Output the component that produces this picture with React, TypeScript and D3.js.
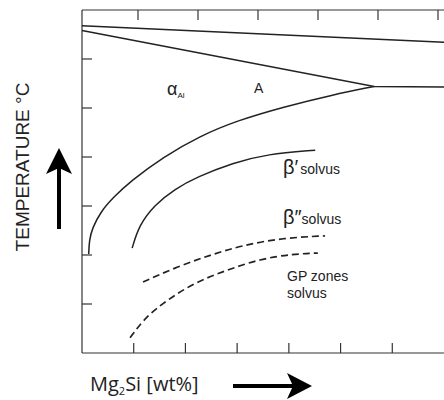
import React, { useEffect, useRef } from "react"
import * as d3 from "d3"

// composition (x) vs temperature (y), in tick units
const liquidus: [number, number][] = [
  [0, 6.68],
  [7, 6.34],
]
const solidus: [number, number][] = [
  [0, 6.58],
  [5.65, 5.44],
  [7, 5.43],
]
const alphaSolvus: [number, number][] = [
  [0.13, 2.02],
  [0.14, 2.3],
  [0.2, 2.55],
  [0.36, 2.88],
  [0.6, 3.17],
  [0.93, 3.5],
  [1.57, 4.0],
  [2.28, 4.43],
  [3.02, 4.75],
  [3.89, 5.02],
  [4.85, 5.27],
  [5.65, 5.44],
]
const betaPrime: [number, number][] = [
  [0.97, 2.14],
  [1.1, 2.6],
  [1.4, 3.02],
  [1.8, 3.35],
  [2.22, 3.59],
  [2.92, 3.88],
  [3.58, 4.06],
  [4.51, 4.14],
]
const betaDoublePrime: [number, number][] = [
  [1.18, 1.45],
  [1.84, 1.76],
  [2.48, 2.0],
  [3.11, 2.2],
  [3.89, 2.35],
  [4.7, 2.39],
]
const gpZones: [number, number][] = [
  [0.93, 0.31],
  [1.18, 0.67],
  [1.51, 0.98],
  [2.15, 1.43],
  [2.8, 1.69],
  [3.44, 1.92],
  [4.08, 2.02],
  [4.56, 2.04],
]

const bottomTicks = [1, 2, 3, 4, 5, 6]
const topTicks = [1, 2, 3, 4, 5, 6]
const leftTicks = [1, 2, 3, 4, 5, 6]

export default function App() {
  const ref = useRef<SVGSVGElement>(null)

  useEffect(() => {
    document.body.style.margin = "0"
    const svg = d3.select(ref.current)
    svg.selectAll("*").remove()

    const x = d3.scaleLinear().domain([0, 7]).range([82, 444])
    const xTop = d3.scaleLinear().domain([0, 6]).range([78, 438])
    const y = d3.scaleLinear().domain([0, 7]).range([353, 10])
    const ink = "#222"

    // frame
    const frame = svg.append("g").attr("stroke", "#333").attr("stroke-width", 1.2).attr("fill", "none")
    frame.append("line").attr("x1", x(0)).attr("x2", x(0)).attr("y1", y(7)).attr("y2", y(0))
    frame.append("line").attr("x1", x(0)).attr("x2", x(7)).attr("y1", y(7)).attr("y2", y(7))
    frame.append("line").attr("x1", x(0)).attr("x2", x(7)).attr("y1", y(0)).attr("y2", y(0))

    frame
      .selectAll(".lt")
      .data(leftTicks)
      .join("line")
      .attr("x1", x(0))
      .attr("x2", x(0) + 10)
      .attr("y1", d => y(d))
      .attr("y2", d => y(d))
    frame
      .selectAll(".bt")
      .data(bottomTicks)
      .join("line")
      .attr("x1", d => x(d))
      .attr("x2", d => x(d))
      .attr("y1", y(0))
      .attr("y2", y(0) - 10)
    frame
      .selectAll(".tt")
      .data(topTicks)
      .join("line")
      .attr("x1", d => xTop(d))
      .attr("x2", d => xTop(d))
      .attr("y1", y(7))
      .attr("y2", y(7) + 10)

    const line = d3
      .line<[number, number]>()
      .x(d => x(d[0]))
      .y(d => y(d[1]))
    const smooth = d3
      .line<[number, number]>()
      .x(d => x(d[0]))
      .y(d => y(d[1]))
      .curve(d3.curveBasis)

    const curves = svg.append("g").attr("fill", "none").attr("stroke", ink).attr("stroke-width", 1.5)
    curves.append("path").attr("d", line(liquidus))
    curves.append("path").attr("d", line(solidus))
    curves.append("path").attr("d", smooth(alphaSolvus))
    curves.append("path").attr("d", smooth(betaPrime))
    curves.append("path").attr("d", smooth(betaDoublePrime)).attr("stroke-dasharray", "7,4").attr("stroke-width", 1.7)
    curves.append("path").attr("d", smooth(gpZones)).attr("stroke-dasharray", "7,4").attr("stroke-width", 1.7)

    // labels
    const sans = "Liberation Sans, Arial, sans-serif"
    const alpha = svg.append("text").attr("x", 167).attr("y", 95).attr("fill", ink).attr("font-family", sans)
    alpha.append("tspan").attr("font-size", 18).text("α")
    alpha.append("tspan").attr("font-size", 8).attr("dy", 3).text("Al")

    svg.append("text").attr("x", 254).attr("y", 93).attr("font-size", 14).attr("fill", ink).attr("font-family", sans).text("A")

    const bp = svg.append("text").attr("x", 283).attr("y", 174).attr("fill", ink).attr("font-family", sans)
    bp.append("tspan").attr("font-size", 20).text("β′")
    bp.append("tspan").attr("font-size", 14).attr("dx", 2).text("solvus")

    const bpp = svg.append("text").attr("x", 283).attr("y", 224).attr("fill", ink).attr("font-family", sans)
    bpp.append("tspan").attr("font-size", 20).text("β″")
    bpp.append("tspan").attr("font-size", 14).text("solvus")

    svg.append("text").attr("x", 287).attr("y", 281).attr("font-size", 14).attr("fill", ink).attr("font-family", sans).text("GP zones")
    svg.append("text").attr("x", 287).attr("y", 298).attr("font-size", 14).attr("fill", ink).attr("font-family", sans).text("solvus")

    // axis titles
    svg
      .append("text")
      .attr("transform", "translate(29,167) rotate(-90)")
      .attr("text-anchor", "middle")
      .attr("font-size", 19)
      .attr("fill", ink)
      .attr("font-family", sans)
      .text("TEMPERATURE °C")

    const xl = svg.append("text").attr("x", 90).attr("y", 391).attr("fill", ink).attr("font-family", "Open Sans, sans-serif").attr("font-size", 20)
    xl.append("tspan").text("Mg")
    xl.append("tspan").attr("font-size", 11).attr("dy", 4).text("2")
    xl.append("tspan").attr("dy", -4).text("Si [wt%]")

    // arrows
    svg.append("rect").attr("x", 57).attr("y", 165).attr("width", 4).attr("height", 64).attr("fill", "#000")
    svg.append("path").attr("d", "M59,148 L46,174 L59,168 L72,174 Z").attr("fill", "#000")
    svg.append("rect").attr("x", 233).attr("y", 384).attr("width", 64).attr("height", 4).attr("fill", "#000")
    svg.append("path").attr("d", "M312,386 L287,373 L293,386 L287,399 Z").attr("fill", "#000")
  }, [])

  return <svg ref={ref} width={444} height={400} style={{ display: "block", background: "#fff" }} />
}
